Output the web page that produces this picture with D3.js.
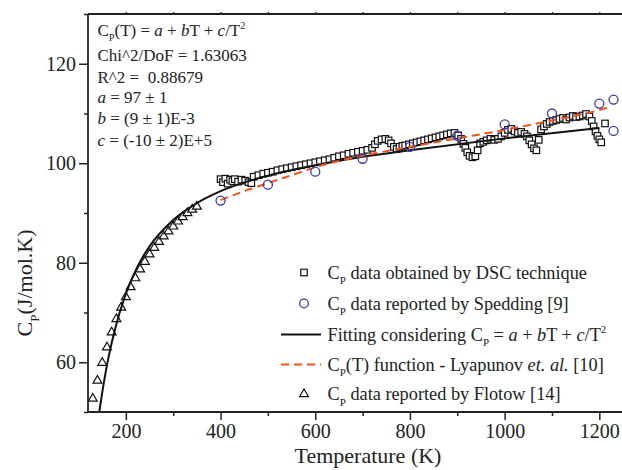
<!DOCTYPE html>
<html><head><meta charset="utf-8">
<script src="https://cdn.jsdelivr.net/npm/d3@7"></script>
<style>
html,body{margin:0;padding:0;background:#fff;}
svg{display:block;}
text{font-family:"Liberation Serif","Times New Roman",serif;fill:#222;}
</style></head>
<body>
<svg id="chart" width="622" height="470"></svg>
<script>
// ---- data ----
const xTickValues = [200, 400, 600, 800, 1000, 1200];
const yTickValues = [60, 80, 100, 120];
const xMinorTicks = [300, 500, 700, 900, 1100];
const yMinorTicks = [50, 70, 90, 110, 130];

const dscT = [400,405,410,415,420,425,430,437,444,452,459,465,470,480,490,500,510,520,530,540,550,560,570,580,590,600,610,620,630,640,650,660,670,680,690,700,710,720,726,732,740,748,755,760,766,772,778,784,790,798,806,814,822,830,838,846,854,862,870,878,886,894,902,908,913,917,921,926,932,938,943,948,955,962,970,978,986,993,1000,1007,1014,1021,1028,1035,1042,1047,1052,1057,1062,1067,1072,1077,1083,1089,1095,1102,1109,1116,1123,1130,1137,1144,1151,1158,1165,1172,1179,1184,1188,1192,1196,1200,1204,1212];
const dscCp = [96.8,96.2,96.9,95.9,96.7,96.4,96.8,96.3,96.7,96.5,96.2,96.0,97.3,97.6,97.9,98.1,98.3,98.6,98.8,99.0,99.2,99.4,99.6,99.8,100.0,100.2,100.4,100.6,100.8,101.1,101.4,101.6,101.9,102.1,102.3,102.5,102.7,103.1,103.8,104.5,104.8,104.9,104.6,104.0,103.3,102.9,103.3,103.5,103.6,103.8,104.0,104.2,104.4,104.6,104.8,105.0,105.2,105.4,105.6,105.8,106.0,106.1,105.6,104.9,103.9,103.1,102.2,101.5,101.2,101.4,102.6,104.0,104.3,104.6,104.9,104.7,104.9,105.4,106.1,106.7,106.9,106.4,106.1,106.3,105.9,105.4,104.6,103.8,103.0,102.6,104.7,106.8,107.4,107.9,108.3,108.5,108.7,108.9,109.1,108.8,109.2,109.5,109.3,109.4,109.6,109.9,109.4,108.5,107.4,106.4,105.5,104.8,104.2,108.0];

const speddingT = [400,500,600,700,800,900,1000,1100,1200,1230,1230];
const speddingCp = [92.5,95.7,98.3,100.9,103.3,105.5,107.8,110.0,112.0,112.8,106.5];

const flotowT = [130,140,150,160,170,180,190,200,210,220,230,240,250,260,270,280,290,300,310,320,330,340,350];
const flotowCp = [52.7,56.3,59.9,63.0,66.0,68.7,71.0,73.1,75.1,76.9,78.7,80.2,81.7,83.0,84.2,85.3,86.3,87.3,88.3,89.2,90.0,90.7,91.3];

const fitT = [144,150,160,175,200,225,250,300,350,400,500,600,700,800,1000,1200];
const fitCp = [50.1,53.9,59.4,65.9,73.8,79.3,83.3,88.6,92.0,94.4,97.5,99.6,101.3,102.6,105.0,107.1];

const lyapT = [400,450,500,550,600,700,800,900,1000,1100,1200,1218];
const lyapCp = [92.6,94.4,96.0,97.6,99.2,101.5,103.3,105.0,106.7,108.6,110.7,111.2];

// ---- layout ----
const svg = d3.select("#chart");
const x = d3.scaleLinear().domain([120, 1250]).range([88, 623]);
const y = d3.scaleLinear().domain([50, 130]).range([412, 14]);
const axisColor = "#222";

// frame lines
svg.append("line").attr("x1",88).attr("x2",623).attr("y1",14).attr("y2",14)
  .attr("stroke",axisColor).attr("stroke-width",1.8);

// bottom axis
const gx = svg.append("g").attr("transform","translate(0,412)")
  .call(d3.axisBottom(x).tickValues(xTickValues).tickSize(8).tickPadding(4).tickFormat(d3.format("d")));
gx.select(".domain").attr("stroke",axisColor).attr("stroke-width",1.8).attr("d","M88,0H623");
gx.selectAll(".tick line").attr("stroke",axisColor).attr("stroke-width",1.5);
gx.selectAll(".tick text").attr("font-size",20).attr("font-family","Liberation Serif").attr("fill","#222");
const gxm = svg.append("g").attr("transform","translate(0,412)")
  .call(d3.axisBottom(x).tickValues(xMinorTicks).tickSize(4).tickFormat(""));
gxm.select(".domain").remove();
gxm.selectAll(".tick line").attr("stroke",axisColor).attr("stroke-width",1.5);

// top minor ticks (outward)
const gt = svg.append("g").attr("transform","translate(0,14)")
  .call(d3.axisTop(x).tickValues(xTickValues.concat(xMinorTicks)).tickSize(2).tickFormat(""));
gt.select(".domain").remove();
gt.selectAll(".tick line").attr("stroke",axisColor).attr("stroke-width",1.2);

// left axis
const gy = svg.append("g").attr("transform","translate(88,0)")
  .call(d3.axisLeft(y).tickValues(yTickValues).tickSize(9).tickPadding(3));
gy.select(".domain").attr("stroke",axisColor).attr("stroke-width",1.8).attr("d","M0,412V14");
gy.selectAll(".tick line").attr("stroke",axisColor).attr("stroke-width",1.5);
gy.selectAll(".tick text").attr("font-size",20).attr("font-family","Liberation Serif").attr("fill","#222");
const gym = svg.append("g").attr("transform","translate(88,0)")
  .call(d3.axisLeft(y).tickValues(yMinorTicks).tickSize(4).tickFormat(""));
gym.select(".domain").remove();
gym.selectAll(".tick line").attr("stroke",axisColor).attr("stroke-width",1.5);

// axis titles
svg.append("text").attr("x",368).attr("y",463).attr("text-anchor","middle")
  .attr("font-size",22).text("Temperature (K)");

// rich text helper
function rich(sel, parts, size){
  let shift = 0;
  parts.forEach(p => {
    const ts = sel.append("tspan").text(p.t);
    let target = 0;
    if (p.sub){ ts.attr("font-size", size*0.6); target = size*0.32; }
    else if (p.sup){ ts.attr("font-size", size*0.6); target = -size*0.42; }
    if (target !== shift){ ts.attr("dy", target - shift); shift = target; }
    if (p.i) ts.attr("font-style","italic");
  });
}

const ylab = svg.append("text").attr("transform","translate(32,283) rotate(-90)")
  .attr("text-anchor","middle").attr("font-size",22);
rich(ylab, [{t:"C"},{t:"P",sub:true},{t:"(J/mol.K)"}], 22);

// ---- marks ----
const clipId = "plotclip";
svg.append("clipPath").attr("id",clipId).append("rect")
  .attr("x",88).attr("y",14).attr("width",540).attr("height",398);
const plot = svg.append("g").attr("clip-path",`url(#${clipId})`);

const sq = 6.5;
plot.append("g").selectAll("rect").data(dscT.map((t,i)=>[t,dscCp[i]])).join("rect")
  .attr("x",d=>x(d[0])-sq/2).attr("y",d=>y(d[1])-sq/2).attr("width",sq).attr("height",sq)
  .attr("fill","#fff").attr("stroke","#111").attr("stroke-width",1.2);

const tri = d3.symbol().type(d3.symbolTriangle).size(34);
plot.append("g").selectAll("path").data(flotowT.map((t,i)=>[t,flotowCp[i]])).join("path")
  .attr("d",tri).attr("transform",d=>`translate(${x(d[0])},${y(d[1])})`)
  .attr("fill","#fff").attr("stroke","#111").attr("stroke-width",1.2);

const line = d3.line().x(d=>x(d[0])).y(d=>y(d[1])).curve(d3.curveMonotoneX);
plot.append("path").datum(fitT.map((t,i)=>[t,fitCp[i]])).attr("d",line)
  .attr("fill","none").attr("stroke","#111").attr("stroke-width",2);
plot.append("path").datum(lyapT.map((t,i)=>[t,lyapCp[i]])).attr("d",line)
  .attr("fill","none").attr("stroke","#f4511e").attr("stroke-width",2).attr("stroke-dasharray","8,5");

plot.append("g").selectAll("circle").data(speddingT.map((t,i)=>[t,speddingCp[i]])).join("circle")
  .attr("cx",d=>x(d[0])).attr("cy",d=>y(d[1])).attr("r",4.5)
  .attr("fill","none").attr("stroke","#3a3aa8").attr("stroke-width",1.3);

// ---- annotation text ----
const fs = 17;
const ann = [
  [{t:"C"},{t:"P",sub:true},{t:"(T) = "},{t:"a",i:true},{t:" + "},{t:"b",i:true},{t:"T + "},{t:"c",i:true},{t:"/T"},{t:"2",sup:true}],
  [{t:"Chi^2/DoF = 1.63063"}],
  [{t:"R^2 =  0.88679"}],
  [{t:"a",i:true},{t:" = 97 ± 1"}],
  [{t:"b",i:true},{t:" = (9 ± 1)E-3"}],
  [{t:"c",i:true},{t:" = (-10 ± 2)E+5"}]
];
const annY = [36, 61, 82.5, 103, 124, 145.5];
ann.forEach((parts,i)=>{
  const t = svg.append("text").attr("x",97.5).attr("y",annY[i]).attr("font-size",fs)
    .style("white-space","pre");
  rich(t, parts, fs);
});

// ---- legend ----
const lfs = 18.3;
const legY = [278.5, 309.5, 340.5, 370.5, 400];
const legItems = [
  {type:"square", parts:[{t:"C"},{t:"P",sub:true},{t:" data obtained by DSC technique"}]},
  {type:"circle", parts:[{t:"C"},{t:"P",sub:true},{t:" data reported by Spedding [9]"}]},
  {type:"line", parts:[{t:"Fitting considering C"},{t:"P",sub:true},{t:" = "},{t:"a",i:true},{t:" + "},{t:"b",i:true},{t:"T + "},{t:"c",i:true},{t:"/T"},{t:"2",sup:true}]},
  {type:"dash", parts:[{t:"C"},{t:"P",sub:true},{t:"(T) function - Lyapunov "},{t:"et. al.",i:true},{t:" [10]"}]},
  {type:"tri", parts:[{t:"C"},{t:"P",sub:true},{t:" data reported by Flotow [14]"}]}
];
legItems.forEach((it,i)=>{
  const cy = legY[i] - 6;
  const sx = 304;
  if (it.type==="square"){
    svg.append("rect").attr("x",sx-3.25).attr("y",cy-3.25).attr("width",6.5).attr("height",6.5)
      .attr("fill","#fff").attr("stroke","#111").attr("stroke-width",1.2);
  } else if (it.type==="circle"){
    svg.append("circle").attr("cx",sx).attr("cy",cy).attr("r",4.3)
      .attr("fill","none").attr("stroke","#3a3aa8").attr("stroke-width",1.3);
  } else if (it.type==="line"){
    svg.append("line").attr("x1",281).attr("x2",321).attr("y1",cy).attr("y2",cy)
      .attr("stroke","#111").attr("stroke-width",2);
  } else if (it.type==="dash"){
    svg.append("line").attr("x1",281).attr("x2",321).attr("y1",cy).attr("y2",cy)
      .attr("stroke","#f4511e").attr("stroke-width",2).attr("stroke-dasharray","8,5");
  } else {
    svg.append("path").attr("d",tri).attr("transform",`translate(${sx},${cy})`)
      .attr("fill","#fff").attr("stroke","#111").attr("stroke-width",1.2);
  }
  const t = svg.append("text").attr("x",327.5).attr("y",legY[i]).attr("font-size",lfs);
  rich(t, it.parts, lfs);
});
</script>
</body></html>
